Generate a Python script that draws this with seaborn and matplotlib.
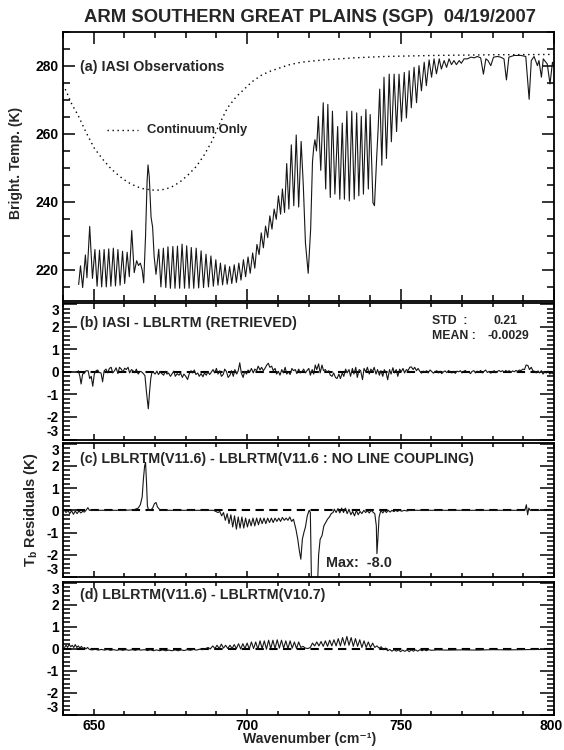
import matplotlib
matplotlib.use("Agg")
import matplotlib.pyplot as plt
import matplotlib.transforms as mtrans
from matplotlib.ticker import MultipleLocator
import seaborn as sns

sns.set_theme(style="ticks")
plt.rcParams["font.family"] = ["Liberation Sans", "DejaVu Sans"]
plt.rcParams["font.weight"] = "bold"
plt.rcParams["axes.unicode_minus"] = False
plt.rcParams["mathtext.fontset"] = "custom"
plt.rcParams["mathtext.rm"] = "Liberation Sans:bold"
plt.rcParams["mathtext.it"] = "Liberation Sans:bold"
plt.rcParams["mathtext.bf"] = "Liberation Sans:bold"

# ---------------------------------------------------------------- data
# (a) IASI observed brightness temperature, (wavenumber cm-1, K)
iasi_points = [
    (645.1, 215.7), (645.7, 221.2), (646.4, 214.8), (647.3, 224.4), (647.8, 217.7),
    (648.7, 232.8), (649.6, 217.5), (650.4, 226.0), (651.1, 215.2), (651.9, 225.8),
    (652.6, 215.0), (653.4, 226.0), (654.1, 215.0), (654.9, 226.2), (655.6, 215.2),
    (656.4, 226.4), (657.1, 215.3), (657.9, 226.0), (658.6, 215.5), (659.4, 225.5),
    (660.1, 216.0), (660.9, 225.2), (661.6, 218.0), (662.4, 231.6), (663.2, 219.2),
    (664.0, 222.7), (664.6, 221.3), (665.2, 222.0), (665.8, 220.0), (666.3, 216.2),
    (666.9, 230.0), (667.4, 246.0), (667.7, 250.9), (668.1, 247.5), (668.7, 235.5),
    (669.2, 232.6), (669.7, 224.0), (670.3, 218.7), (671.2, 226.1), (671.9, 215.0),
    (672.7, 226.4), (673.5, 214.8), (674.2, 226.8), (675.0, 214.6), (675.8, 226.9),
    (676.5, 214.6), (677.3, 227.0), (678.0, 214.6), (678.8, 227.6), (679.6, 214.6),
    (680.3, 227.1), (681.1, 214.6), (681.8, 226.6), (682.6, 214.6), (683.4, 226.4),
    (684.2, 214.7), (685.0, 225.6), (685.8, 214.8), (686.6, 224.6), (687.4, 215.0),
    (688.2, 224.1), (689.0, 215.2), (689.8, 223.0), (690.5, 215.5), (691.3, 222.0),
    (692.0, 215.6), (692.8, 221.5), (693.5, 215.8), (694.3, 221.0), (695.0, 216.0),
    (695.8, 221.5), (696.5, 216.3), (697.3, 222.0), (698.0, 217.0), (698.8, 223.0),
    (699.5, 218.0), (700.3, 223.8), (701.0, 219.0), (701.8, 225.0), (702.5, 220.5),
    (703.2, 227.5), (703.9, 224.5), (704.6, 230.9), (705.3, 226.5), (706.0, 232.9),
    (706.7, 229.5), (707.4, 235.9), (708.1, 232.0), (708.8, 237.9), (709.5, 234.9),
    (710.2, 241.8), (710.9, 236.4), (711.5, 243.8), (712.2, 236.9), (712.9, 251.3),
    (713.6, 237.9), (714.4, 256.8), (715.2, 238.9), (716.0, 259.7), (716.8, 238.5),
    (717.6, 257.8), (718.3, 245.0), (719.0, 228.0), (719.9, 219.0), (720.7, 232.0),
    (721.3, 251.8), (721.7, 256.0), (722.1, 258.3), (722.6, 255.0), (723.2, 265.2),
    (724.0, 249.3), (724.8, 269.2), (725.6, 243.8), (726.3, 268.7), (727.1, 241.3),
    (727.8, 266.7), (728.6, 242.3), (729.5, 262.2), (730.2, 240.8), (731.0, 263.2),
    (731.7, 240.8), (732.5, 266.7), (733.3, 240.3), (734.1, 266.7), (734.9, 240.8),
    (735.7, 266.2), (736.4, 241.8), (737.2, 265.2), (737.9, 242.3), (738.7, 267.2),
    (739.5, 243.8), (740.1, 265.7), (741.0, 239.8), (741.5, 238.9), (742.2, 252.8),
    (742.7, 261.7), (743.2, 273.2), (743.9, 250.8), (744.6, 276.7), (745.4, 252.8),
    (746.3, 277.6), (747.0, 257.7), (747.9, 277.6), (748.7, 260.7), (749.5, 277.6),
    (750.3, 263.7), (751.2, 278.1), (751.9, 264.7), (752.8, 278.6), (753.5, 267.7),
    (754.4, 279.6), (755.2, 269.2), (756.0, 280.1), (756.8, 272.7), (757.7, 281.1),
    (758.4, 274.2), (759.3, 281.8), (760.1, 276.7), (760.9, 282.1), (761.7, 277.7),
    (762.6, 282.1), (763.3, 279.1), (764.2, 281.6), (765.0, 279.6), (765.8, 282.1),
    (766.6, 280.4), (767.4, 281.6), (768.2, 280.4), (769.1, 281.6), (769.8, 280.8),
    (770.7, 282.1), (771.8, 282.1), (772.9, 282.6), (774.0, 282.4), (775.0, 282.8),
    (776.1, 282.4), (777.0, 277.6), (777.8, 282.1), (778.5, 281.6), (779.4, 280.1),
    (780.3, 282.6), (781.6, 282.8), (782.6, 282.6), (783.7, 282.1), (784.5, 275.9),
    (785.3, 282.6), (787.0, 283.1), (789.2, 283.1), (790.8, 282.8), (791.9, 270.2),
    (792.6, 281.6), (793.5, 282.8), (794.6, 280.1), (795.1, 281.6), (795.9, 276.7),
    (796.5, 282.1), (797.8, 280.6), (798.7, 274.7), (799.5, 281.1), (800.2, 279.6),
]

# (a) clear-sky continuum-only calculation
continuum_points = [
    (640.0, 274.5), (641.0, 272.7), (643.0, 268.5), (644.8, 265.7), (647.5, 260.5),
    (650.2, 255.8), (653.0, 252.5), (655.6, 249.8), (658.5, 247.5), (661.1, 245.8),
    (664.0, 244.5), (666.5, 243.8), (670.3, 243.4), (673.0, 243.7), (675.2, 244.3),
    (678.0, 245.8), (680.6, 247.8), (683.5, 250.5), (686.0, 253.8), (688.5, 257.8),
    (690.4, 261.7), (692.0, 264.8), (693.6, 267.7), (696.5, 271.0), (699.1, 273.2),
    (701.5, 275.3), (704.5, 277.2), (707.0, 278.3), (709.9, 279.2), (713.5, 280.3),
    (717.5, 281.1), (725.0, 281.8), (735.0, 282.4), (745.0, 282.8), (761.0, 283.1),
    (780.0, 283.3), (800.0, 283.4),
]

# (b) IASI minus LBLRTM (retrieved profile), K
resid_retrieved = [
    (645.0, 0.05), (645.5, -0.2), (645.9, -0.54), (646.4, -0.1), (647.0, -0.06),
    (647.5, 0.05), (648.2, 0.04), (648.7, -0.3), (649.2, -0.2), (649.7, -0.64),
    (650.2, -0.1), (650.8, 0.05), (651.3, 0.08), (651.8, -0.03), (652.4, -0.05),
    (652.9, -0.44), (653.4, 0.04), (654.0, 0.12), (654.6, -0.05), (655.1, 0.15),
    (655.7, 0.2), (656.2, -0.05), (656.8, 0.05), (657.3, 0.18), (657.9, -0.08),
    (658.4, 0.2), (659.0, 0.12), (659.5, -0.02), (660.1, 0.16), (660.6, 0.1),
    (661.2, 0.2), (661.7, -0.05), (662.3, 0.1), (662.8, 0.05), (663.4, -0.04),
    (663.9, 0.12), (664.5, -0.1), (665.0, 0.02), (665.6, 0.0), (666.2, -0.08),
    (666.7, -0.17), (667.2, -0.9), (667.8, -1.64), (668.2, -0.9), (668.6, -0.3),
    (669.0, 0.0), (669.5, -0.02), (670.0, -0.1), (670.6, 0.03), (671.1, -0.12),
    (671.7, 0.0), (672.2, -0.08), (672.8, -0.15), (673.3, 0.02), (673.9, -0.1),
    (674.4, -0.05), (675.0, -0.2), (675.5, -0.1), (676.1, 0.03), (676.6, -0.2),
    (677.2, -0.08), (677.8, -0.15), (678.3, -0.05), (678.9, -0.25), (679.4, -0.1),
    (680.0, -0.2), (680.6, -0.34), (681.1, -0.1), (681.7, 0.05), (682.2, -0.05),
    (682.8, 0.08), (683.3, -0.12), (683.9, -0.05), (684.4, -0.2), (685.0, -0.08),
    (685.6, -0.22), (686.1, -0.05), (686.7, -0.15), (687.2, 0.0), (687.8, -0.12),
    (688.3, -0.02), (688.9, 0.1), (689.4, -0.05), (690.0, 0.15), (690.5, -0.1),
    (691.1, 0.05), (691.6, -0.2), (692.2, -0.12), (692.7, 0.12), (693.3, 0.0),
    (693.8, -0.25), (694.4, -0.15), (694.9, 0.05), (695.5, -0.2), (696.0, 0.1),
    (696.6, -0.1), (697.1, 0.05), (697.6, 0.4), (698.1, -0.05), (698.7, -0.25),
    (699.2, 0.02), (699.8, -0.1), (700.3, 0.08), (700.9, 0.0), (701.4, 0.15),
    (702.0, -0.05), (702.5, 0.12), (703.1, 0.05), (703.6, 0.25), (704.2, 0.08),
    (704.7, 0.2), (705.3, 0.05), (705.8, 0.15), (706.4, 0.3), (706.9, 0.38),
    (707.4, 0.2), (708.0, 0.25), (708.5, 0.05), (709.1, 0.15), (709.6, -0.1),
    (710.2, 0.02), (710.7, -0.15), (711.3, 0.1), (711.8, -0.05), (712.4, 0.2),
    (712.9, -0.1), (713.5, 0.0), (714.0, -0.12), (714.6, 0.15), (715.1, 0.05),
    (715.7, 0.1), (716.2, -0.08), (716.8, 0.12), (717.3, -0.05), (717.9, 0.0),
    (718.4, 0.12), (719.0, -0.05), (719.5, 0.05), (720.1, 0.15), (720.6, -0.15),
    (721.2, 0.1), (721.7, -0.1), (722.2, 0.3), (722.7, 0.1), (723.3, 0.35),
    (723.8, -0.05), (724.4, 0.3), (724.9, 0.05), (725.5, 0.1), (726.0, -0.02),
    (726.6, 0.05), (727.1, -0.15), (727.7, -0.2), (728.2, -0.05), (728.8, -0.25),
    (729.3, -0.3), (729.9, -0.1), (730.4, -0.3), (731.0, -0.05), (731.5, -0.2),
    (732.1, 0.12), (732.6, -0.05), (733.2, 0.1), (733.7, -0.2), (734.3, 0.15),
    (734.8, -0.1), (735.4, 0.2), (735.9, -0.25), (736.5, 0.1), (737.0, 0.05),
    (737.6, -0.35), (738.1, 0.15), (738.7, 0.0), (739.2, 0.2), (739.8, -0.1),
    (740.3, 0.12), (740.9, 0.02), (741.4, 0.2), (742.0, -0.1), (742.5, 0.1),
    (743.1, -0.15), (743.6, 0.05), (744.2, -0.2), (744.7, 0.1), (745.3, -0.05),
    (745.8, -0.35), (746.4, 0.1), (746.9, -0.1), (747.5, 0.18), (748.0, -0.05),
    (748.6, 0.1), (749.1, -0.2), (749.7, 0.12), (750.2, 0.0), (750.8, 0.15),
    (751.3, -0.05), (751.9, 0.1), (752.4, 0.05), (753.0, 0.2), (753.5, 0.22),
    (754.1, 0.1), (754.6, 0.2), (755.2, 0.05), (755.7, 0.15), (756.3, 0.02),
    (756.8, -0.06), (757.4, 0.03), (757.9, -0.02), (758.5, 0.05), (759.0, -0.05),
    (759.6, 0.08), (760.1, 0.02), (760.7, -0.06), (761.2, 0.0), (761.8, 0.05),
    (762.3, -0.05), (762.9, 0.03), (763.4, -0.08), (764.0, 0.0), (764.5, 0.04),
    (765.1, -0.04), (765.6, 0.06), (766.2, 0.0), (766.7, -0.05), (767.3, 0.02),
    (767.8, -0.07), (768.4, 0.03), (768.9, 0.0), (769.5, 0.05), (770.0, -0.05),
    (770.6, 0.02), (771.1, 0.06), (771.7, -0.03), (772.2, 0.0), (772.8, -0.08),
    (773.3, 0.02), (773.9, 0.05), (774.4, -0.05), (775.0, 0.03), (775.5, -0.02),
    (776.1, 0.06), (776.6, -0.05), (777.2, 0.02), (777.7, 0.08), (778.3, -0.03),
    (778.8, 0.02), (779.4, -0.06), (779.9, 0.0), (780.5, 0.05), (781.0, -0.04),
    (781.6, 0.02), (782.1, 0.06), (782.7, 0.0), (783.2, 0.05), (783.8, -0.02),
    (784.3, 0.06), (784.9, 0.0), (785.4, 0.05), (786.0, -0.03), (786.5, 0.04),
    (787.1, 0.0), (787.6, 0.06), (788.2, 0.02), (788.7, 0.08), (789.3, 0.05),
    (789.8, 0.12), (790.4, 0.1), (790.9, 0.3), (791.5, 0.28), (792.0, 0.1),
    (792.6, 0.2), (793.1, 0.05), (793.7, 0.02), (794.2, -0.05), (794.8, 0.04),
    (795.3, -0.05), (795.9, 0.05), (796.4, -0.1), (797.0, 0.0), (797.5, -0.05),
    (798.1, 0.03), (798.6, -0.1), (799.2, -0.05), (799.8, -0.1),
]
retrieved_std = "0.21"
retrieved_mean = "-0.0029"

# (c) LBLRTM v11.6 minus v11.6 without line coupling, K
resid_coupling = [
    (640.4, 0.0), (641.0, -0.1), (641.6, 0.0), (642.2, -0.15), (642.8, -0.02),
    (643.4, -0.18), (644.0, -0.03), (644.6, -0.15), (645.2, -0.02), (645.8, -0.12),
    (646.4, -0.05), (647.0, -0.08), (647.6, 0.02), (648.1, 0.12), (648.6, 0.0),
    (660.0, 0.0), (663.0, 0.02), (664.5, 0.1), (665.2, 0.25), (665.8, 0.6),
    (666.2, 1.4), (666.6, 2.0), (666.9, 2.15), (667.2, 1.3), (667.5, 0.2),
    (667.9, 0.0), (668.5, 0.0), (669.2, 0.1), (669.8, 0.3), (670.3, 0.35),
    (670.8, 0.15), (671.4, 0.05), (672.0, 0.0), (689.0, 0.0), (689.8, -0.05),
    (690.5, -0.1), (691.1, -0.05), (691.7, -0.25), (692.3, -0.1), (692.9, -0.45),
    (693.5, -0.15), (694.1, -0.6), (694.7, -0.2), (695.3, -0.75), (695.9, -0.25),
    (696.5, -0.85), (697.1, -0.3), (697.7, -0.8), (698.3, -0.3), (698.9, -0.8),
    (699.5, -0.35), (700.1, -0.75), (700.7, -0.4), (701.3, -0.7), (701.9, -0.35),
    (702.5, -0.7), (703.1, -0.35), (703.7, -0.65), (704.3, -0.35), (704.9, -0.6),
    (705.5, -0.35), (706.1, -0.6), (706.7, -0.35), (707.3, -0.55), (707.9, -0.35),
    (708.5, -0.55), (709.1, -0.35), (709.7, -0.5), (710.3, -0.35), (710.9, -0.5),
    (711.5, -0.32), (712.1, -0.45), (712.7, -0.35), (713.3, -0.45), (713.9, -0.3),
    (714.5, -0.5), (715.1, -0.4), (715.9, -0.85), (716.5, -1.3), (717.0, -1.8),
    (717.5, -2.2), (718.0, -1.3), (718.5, -1.0), (719.0, -0.75), (719.6, -0.25),
    (720.2, 0.0), (720.6, -0.1), (721.0, -3.5), (721.9, -8.0), (722.9, -3.5),
    (723.3, -2.0), (723.8, -1.3), (724.4, -1.14), (725.0, -0.7), (725.6, -0.55),
    (726.2, -0.4), (726.8, -0.3), (727.4, -0.15), (728.0, -0.1), (728.4, 0.05),
    (729.0, -0.1), (729.6, 0.08), (730.2, -0.12), (730.8, 0.1), (731.4, -0.1),
    (732.0, 0.1), (732.6, -0.15), (733.2, 0.05), (733.8, -0.2), (734.4, -0.05),
    (735.0, -0.25), (735.6, 0.0), (736.2, -0.2), (736.8, -0.05), (737.4, -0.15),
    (738.0, 0.0), (738.6, -0.1), (739.2, -0.02), (739.8, -0.12), (740.4, 0.0),
    (741.0, -0.08), (741.6, -0.15), (742.1, -0.7), (742.3, -1.95), (742.6, -1.3),
    (743.0, -0.3), (743.6, 0.0), (744.2, -0.12), (744.8, 0.0), (745.4, -0.1),
    (746.0, 0.0), (746.6, -0.08), (747.2, 0.0), (747.8, -0.06), (748.4, 0.0),
    (749.0, -0.05), (749.6, 0.0), (750.4, -0.04), (751.2, 0.0), (752.0, -0.03),
    (753.0, 0.0), (790.5, 0.0), (791.0, 0.25), (791.4, -0.2), (791.8, 0.1),
    (792.2, 0.0), (800.0, 0.0),
]
coupling_max = -8.0

# (d) LBLRTM v11.6 minus v10.7, K
resid_version = [
    (640.5, 0.05), (641.0, 0.15), (641.5, 0.05), (642.0, 0.2), (642.5, 0.08),
    (643.0, 0.15), (643.5, 0.05), (644.0, 0.18), (644.5, 0.05), (645.0, 0.12),
    (645.5, 0.02), (646.0, 0.1), (646.5, 0.0), (647.0, 0.05), (647.5, -0.02),
    (648.0, 0.05), (648.6, -0.04), (649.5, -0.06), (650.5, -0.03), (651.5, -0.07),
    (652.5, -0.04), (653.5, -0.07), (654.5, -0.04), (655.5, -0.08), (656.5, -0.05),
    (657.5, -0.08), (658.5, -0.05), (659.5, -0.08), (660.5, -0.05), (661.5, -0.08),
    (662.5, -0.05), (663.5, -0.08), (664.5, -0.05), (665.5, -0.07), (666.5, -0.05),
    (667.5, -0.09), (668.5, -0.06), (669.5, -0.1), (670.5, -0.06), (671.5, -0.1),
    (672.5, -0.06), (673.5, -0.1), (674.5, -0.07), (675.5, -0.1), (676.5, -0.06),
    (677.5, -0.1), (678.5, -0.06), (679.5, -0.09), (680.5, -0.05), (681.5, -0.08),
    (682.5, -0.04), (683.5, -0.07), (684.5, -0.03), (685.5, -0.05), (686.5, 0.0),
    (687.3, 0.05), (688.0, -0.02), (688.8, 0.12), (689.5, 0.0), (690.2, 0.15),
    (690.9, 0.0), (691.6, 0.2), (692.3, 0.02), (693.0, 0.15), (693.7, 0.0),
    (694.4, 0.15), (695.1, 0.0), (695.8, 0.18), (696.5, 0.0), (697.2, 0.22),
    (697.9, -0.02), (698.6, 0.22), (699.3, 0.0), (700.0, 0.25), (700.7, -0.02),
    (701.4, 0.3), (702.1, 0.0), (702.8, 0.3), (703.5, -0.03), (704.2, 0.35),
    (704.9, 0.0), (705.6, 0.35), (706.3, -0.03), (707.0, 0.38), (707.7, 0.0),
    (708.4, 0.38), (709.1, 0.0), (709.8, 0.4), (710.5, 0.02), (711.2, 0.38),
    (711.9, 0.02), (712.6, 0.35), (713.3, 0.0), (714.0, 0.35), (714.7, 0.02),
    (715.4, 0.3), (716.1, 0.0), (716.8, 0.3), (717.5, 0.05), (718.2, 0.1),
    (719.0, 0.02), (719.8, 0.0), (720.6, 0.05), (721.3, 0.25), (722.0, 0.12),
    (722.7, 0.3), (723.4, 0.12), (724.1, 0.32), (724.8, 0.1), (725.5, 0.35),
    (726.2, 0.1), (726.9, 0.38), (727.6, 0.12), (728.3, 0.4), (729.0, 0.12),
    (729.7, 0.45), (730.4, 0.12), (731.1, 0.5), (731.8, 0.15), (732.5, 0.55),
    (733.2, 0.15), (733.9, 0.5), (734.6, 0.1), (735.3, 0.45), (736.0, 0.1),
    (736.7, 0.4), (737.4, 0.05), (738.1, 0.35), (738.8, 0.05), (739.5, 0.3),
    (740.2, 0.05), (740.9, 0.25), (741.6, 0.05), (742.3, 0.12), (743.0, 0.02),
    (743.7, 0.08), (744.4, -0.05), (745.1, 0.02), (745.8, -0.1), (746.5, -0.04),
    (747.2, -0.12), (747.9, -0.05), (748.6, -0.12), (749.3, -0.06), (750.0, -0.14),
    (750.7, -0.07), (751.4, -0.13), (752.1, -0.06), (752.8, -0.14), (753.5, -0.06),
    (754.2, -0.12), (754.9, -0.06), (755.6, -0.12), (756.3, -0.05), (757.0, -0.1),
    (757.7, -0.05), (758.4, -0.1), (759.2, -0.05), (760.0, -0.08), (762.0, -0.06),
    (765.0, -0.07), (770.0, -0.06), (775.0, -0.07), (780.0, -0.05), (785.0, -0.06),
    (790.0, -0.05), (795.0, -0.04), (800.0, -0.04),
]

x_range = (640, 800)
x_ticks = [650, 700, 750, 800]
tb_range = (211, 290)
tb_ticks = [220, 240, 260, 280]
resid_range = (-3, 3.05)
resid_ticks = [-3, -2, -1, 0, 1, 2, 3]

title = "ARM SOUTHERN GREAT PLAINS (SGP)  04/19/2007"
panel_labels = [
    "(a) IASI Observations",
    "(b) IASI - LBLRTM (RETRIEVED)",
    "(c) LBLRTM(V11.6) - LBLRTM(V11.6 : NO LINE COUPLING)",
    "(d) LBLRTM(V11.6) - LBLRTM(V10.7)",
]

# ---------------------------------------------------------------- figure
W, H = 564, 750
fig = plt.figure(figsize=(W / 100, H / 100), dpi=100)


def px_box(top, bottom, left=63, right=554):
    return [left / W, 1 - bottom / H, (right - left) / W, (bottom - top) / H]


ax_a = fig.add_axes(px_box(32, 300.5))
ax_b = fig.add_axes(px_box(303, 439.5))
ax_c = fig.add_axes(px_box(442.5, 577))
ax_d = fig.add_axes(px_box(581.5, 714.5))

LINE = "#161616"


def trace(ax, points, **kw):
    xs = [p[0] for p in points]
    ys = [p[1] for p in points]
    sns.lineplot(x=xs, y=ys, ax=ax, estimator=None, sort=False, **kw)


def style_axes(ax, tall=False, show_x=False):
    ax.set_xlim(*x_range)
    ax.set_xticks(x_ticks)
    ax.xaxis.set_minor_locator(MultipleLocator(10))
    for s in ax.spines.values():
        s.set_linewidth(1.3)
        s.set_color("black")
    ax.tick_params(which="both", direction="in", top=True, right=True,
                   colors="black", width=1.1)
    if tall:
        ax.tick_params(axis="x", which="major", length=8.5)
        ax.tick_params(axis="x", which="minor", length=4.3)
        ax.tick_params(axis="y", which="major", length=8.5)
        ax.tick_params(axis="y", which="minor", length=5.0)
        ax.tick_params(axis="y", labelsize=10, pad=3)
    else:
        ax.tick_params(axis="x", which="major", length=4.5)
        ax.tick_params(axis="x", which="minor", length=2.6)
        ax.tick_params(axis="y", which="major", length=10)
        ax.tick_params(axis="y", which="minor", length=4.8)
        ax.set_ylim(*resid_range)
        ax.set_yticks(resid_ticks)
        ax.yaxis.set_minor_locator(MultipleLocator(0.2))
        ax.tick_params(axis="y", labelsize=9.8, pad=3)
        ticks = ax.yaxis.get_major_ticks()
        ticks[0].label1.set_verticalalignment("bottom")
        ticks[-1].label1.set_verticalalignment("top")
    ax.tick_params(axis="x", labelsize=10, pad=3, labelbottom=show_x)
    for lab in ax.get_yticklabels() + ax.get_xticklabels():
        lab.set_fontweight("bold")
    ax.set_xlabel("")
    ax.set_ylabel("")
    ax.grid(False)


# (a) observations and continuum
trace(ax_a, continuum_points, color="black", lw=1.0, linestyle=(0, (1, 2.6)))
trace(ax_a, iasi_points, color=LINE, lw=0.8)
ax_a.set_ylim(*tb_range)
ax_a.set_yticks(tb_ticks)
ax_a.yaxis.set_minor_locator(MultipleLocator(5))
style_axes(ax_a, tall=True)
ax_a.plot([0.09, 0.153], [0.634, 0.634], transform=ax_a.transAxes,
          color="black", lw=1.0, linestyle=(0, (1, 2.6)))
ax_a.text(0.171, 0.634, "Continuum Only", transform=ax_a.transAxes,
          ha="left", va="center", fontsize=9.4, fontweight="bold")

# residual panels
for ax, pts in [(ax_b, resid_retrieved), (ax_c, resid_coupling), (ax_d, resid_version)]:
    ax.axhline(0, color="black", lw=1.5, dashes=(4, 2.6), zorder=1)
    trace(ax, pts, color=LINE, lw=0.8, zorder=2)

style_axes(ax_b)
style_axes(ax_c)
style_axes(ax_d, show_x=True)

# keep the last wavenumber label inside the canvas
last = ax_d.xaxis.get_major_ticks()[-1].label1
last.set_transform(last.get_transform()
                   + mtrans.ScaledTranslation(-2.5 / 100, 0, fig.dpi_scale_trans))

# panel captions
for ax, lab, yfrac in [(ax_a, panel_labels[0], 0.869), (ax_b, panel_labels[1], 0.852),
                       (ax_c, panel_labels[2], 0.879), (ax_d, panel_labels[3], 0.895)]:
    ax.text(0.035, yfrac, lab, transform=ax.transAxes, ha="left", va="center",
            fontsize=10.3, fontweight="bold")

ax_b.text(0.752, 0.869, "STD  :", transform=ax_b.transAxes, ha="left", va="center",
          fontsize=8.8, fontweight="bold")
ax_b.text(0.902, 0.869, retrieved_std, transform=ax_b.transAxes, ha="center",
          va="center", fontsize=8.8, fontweight="bold")
ax_b.text(0.752, 0.759, "MEAN :", transform=ax_b.transAxes, ha="left", va="center",
          fontsize=8.8, fontweight="bold")
ax_b.text(0.908, 0.759, retrieved_mean, transform=ax_b.transAxes, ha="center",
          va="center", fontsize=8.8, fontweight="bold")

ax_c.text(725.8, -2.35, f"Max:  {coupling_max:.1f}", ha="left", va="center",
          fontsize=10.4, fontweight="bold")

# figure-level annotations
fig.text(310 / W, 1 - 17.5 / H, title, ha="center", va="center",
         fontsize=13.3, fontweight="bold")
fig.text(16 / W, 1 - 163 / H, "Bright. Temp. (K)", rotation=90, ha="center",
         va="center", fontsize=10, fontweight="bold")
fig.text(31 / W, 1 - 510 / H, "T$_{b}$ Residuals (K)", rotation=90, ha="center",
         va="center", fontsize=10.5, fontweight="bold")
fig.text(310 / W, 3.5 / H, "Wavenumber (cm\u207b\u00b9)", ha="center", va="bottom",
         fontsize=10.1, fontweight="bold")

fig.savefig("out.png", dpi=100, facecolor="white")
